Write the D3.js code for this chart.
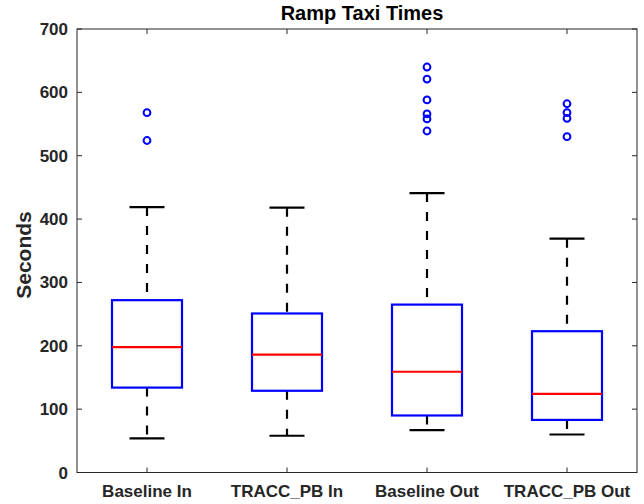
<meta charset="utf-8">
<script src="https://d3js.org/d3.v7.min.js"></script>
<style>
  body { margin: 0; background: #fff; }
  text { font-family: "Liberation Sans", Arial, sans-serif; font-weight: bold; fill: #262626; }
</style>
<div id="chart"></div>
<script>
// data
var groups = ["Baseline In", "TRACC_PB In", "Baseline Out", "TRACC_PB Out"];
var lowWhisker = [54, 58, 67, 60];
var q1 = [134, 129, 90, 83];
var median = [198, 186, 159, 124];
var q3 = [272, 251, 265, 223];
var highWhisker = [419, 418, 441, 369];
var outliers = [
  [524, 568],
  [],
  [539, 558, 566, 588, 621, 640],
  [530, 559, 568, 582]
];
var yTicks = [0, 100, 200, 300, 400, 500, 600, 700];

var W = 644, H = 504;
// plot area (window.top is read-only so no "top" var here)
var axL = 77, axR = 637, axT = 29, axB = 472.5;

var svg = d3.select("#chart").append("svg")
  .attr("width", W).attr("height", H);

// 1..4 positions, axis from 0.5 to 4.5 like matlab boxplot
var x = d3.scaleLinear().domain([0.5, 4.5]).range([axL, axR]);
var y = d3.scaleLinear().domain([0, 700]).range([axB, axT]);

var axisCol = "#262626";

// axes box
svg.append("rect")
  .attr("x", axL).attr("y", axT)
  .attr("width", axR - axL).attr("height", axB - axT)
  .attr("fill", "none").attr("stroke", axisCol).attr("stroke-width", 1);

// y ticks, inward on both sides
yTicks.forEach(function(t) {
  svg.append("line").attr("x1", axL).attr("x2", axL + 5)
    .attr("y1", y(t)).attr("y2", y(t)).attr("stroke", axisCol);
  svg.append("line").attr("x1", axR).attr("x2", axR - 5)
    .attr("y1", y(t)).attr("y2", y(t)).attr("stroke", axisCol);
  svg.append("text").attr("x", axL - 9).attr("y", y(t) + 6)
    .attr("text-anchor", "end").style("font-size", "17px").text(t);
});

// x ticks + labels
groups.forEach(function(g, i) {
  var px = x(i + 1);
  svg.append("line").attr("x1", px).attr("x2", px)
    .attr("y1", axB).attr("y2", axB - 5).attr("stroke", axisCol);
  svg.append("line").attr("x1", px).attr("x2", px)
    .attr("y1", axT).attr("y2", axT + 5).attr("stroke", axisCol);
  svg.append("text").attr("x", px).attr("y", 497)
    .attr("text-anchor", "middle").style("font-size", "17px").text(g);
});

// boxes
var boxW = 0.25, capW = 0.125;
groups.forEach(function(g, i) {
  var c = i + 1;
  var gg = svg.append("g");

  // whiskers, dashed
  gg.append("line").attr("x1", x(c)).attr("x2", x(c))
    .attr("y1", y(highWhisker[i])).attr("y2", y(q3[i]))
    .attr("stroke", "#000").attr("stroke-width", 2.2).attr("stroke-dasharray", "9,10");
  gg.append("line").attr("x1", x(c)).attr("x2", x(c))
    .attr("y1", y(q1[i])).attr("y2", y(lowWhisker[i]))
    .attr("stroke", "#000").attr("stroke-width", 2.2).attr("stroke-dasharray", "9,10");

  // caps
  [highWhisker[i], lowWhisker[i]].forEach(function(v) {
    gg.append("line").attr("x1", x(c - capW)).attr("x2", x(c + capW))
      .attr("y1", y(v)).attr("y2", y(v))
      .attr("stroke", "#000").attr("stroke-width", 2.2);
  });

  gg.append("rect")
    .attr("x", x(c - boxW)).attr("y", y(q3[i]))
    .attr("width", x(c + boxW) - x(c - boxW))
    .attr("height", y(q1[i]) - y(q3[i]))
    .attr("fill", "none").attr("stroke", "#0000ff").attr("stroke-width", 2.2);

  gg.append("line").attr("x1", x(c - boxW)).attr("x2", x(c + boxW))
    .attr("y1", y(median[i])).attr("y2", y(median[i]))
    .attr("stroke", "#ff0000").attr("stroke-width", 2.2);

  gg.selectAll("circle").data(outliers[i]).enter().append("circle")
    .attr("cx", x(c)).attr("cy", function(d) { return y(d); })
    .attr("r", 3.4)
    .attr("fill", "none").attr("stroke", "#0000ff").attr("stroke-width", 2);
});

// title and label
svg.append("text").attr("x", 362).attr("y", 20)
  .attr("text-anchor", "middle").style("font-size", "20px")
  .style("fill", "#000").text("Ramp Taxi Times");

svg.append("text")
  .attr("transform", "translate(31,255) rotate(-90)")
  .attr("text-anchor", "middle").style("font-size", "21px").text("Seconds");
</script>
